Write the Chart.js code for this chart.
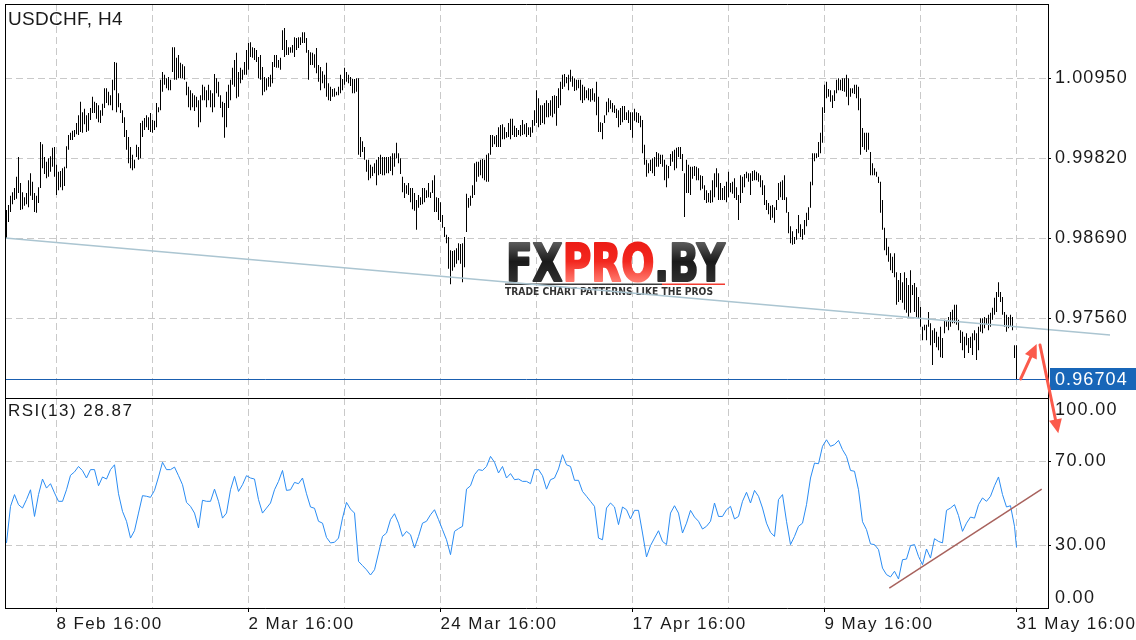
<!DOCTYPE html>
<html>
<head>
<meta charset="utf-8">
<title>USDCHF, H4</title>
<script src="https://cdn.jsdelivr.net/npm/chart.js@4.4.1/dist/chart.umd.min.js"></script>
<style>
html, body { margin: 0; padding: 0; background: #fff; }
#wrap { position: relative; width: 1136px; height: 640px; overflow: hidden; }
canvas { position: absolute; left: 0; top: 0; }
#rsiChart { z-index: 1; }
#mainChart { z-index: 2; }
</style>
</head>
<body>
<div id="wrap">
  <canvas id="rsiChart" width="1136" height="640"></canvas>
  <canvas id="mainChart" width="1136" height="640"></canvas>
</div>
<script>
// =========================
// Data (H4 bars)
// =========================
const highs = [
  0.9909,0.9916,0.9929,0.9934,0.9940,0.9956,0.9984,0.9947,0.9934,0.9927,
  0.9933,0.9951,0.9961,0.9949,0.9933,0.9929,0.9941,1.0005,1.0002,0.9984,
  0.9977,0.9982,0.9985,0.9997,0.9998,0.9973,0.9963,0.9964,0.9968,0.9970,
  0.9999,1.0015,1.0018,1.0021,1.0022,1.0032,1.0043,1.0062,1.0047,1.0052,
  1.0043,1.0046,1.0053,1.0069,1.0062,1.0060,1.0057,1.0050,1.0059,1.0081,
  1.0081,1.0076,1.0071,1.0093,1.0118,1.0117,1.0074,1.0060,1.0050,1.0040,
  1.0022,1.0012,0.9998,0.9987,0.9980,1.0001,0.9998,1.0032,1.0035,1.0039,
  1.0043,1.0040,1.0046,1.0036,1.0035,1.0060,1.0054,1.0093,1.0104,1.0100,
  1.0095,1.0097,1.0093,1.0139,1.0139,1.0124,1.0128,1.0117,1.0115,1.0112,
  1.0090,1.0083,1.0078,1.0074,1.0071,1.0069,1.0064,1.0071,1.0086,1.0083,
  1.0078,1.0086,1.0078,1.0074,1.0101,1.0095,1.0090,1.0071,1.0062,1.0060,
  1.0076,1.0086,1.0093,1.0110,1.0121,1.0131,1.0104,1.0110,1.0107,1.0118,
  1.0135,1.0145,1.0146,1.0139,1.0138,1.0135,1.0125,1.0128,1.0111,1.0097,
  1.0095,1.0097,1.0100,1.0118,1.0128,1.0128,1.0121,1.0124,1.0163,1.0166,
  1.0149,1.0139,1.0139,1.0142,1.0153,1.0152,1.0153,1.0153,1.0160,1.0160,
  1.0152,1.0135,1.0132,1.0131,1.0129,1.0138,1.0114,1.0111,1.0105,1.0100,
  1.0117,1.0088,1.0083,1.0080,1.0081,1.0076,1.0083,1.0100,1.0094,1.0110,
  1.0104,1.0100,1.0097,1.0094,1.0094,1.0095,1.0095,1.0012,1.0006,0.9998,
  0.9980,0.9980,0.9973,0.9970,0.9975,0.9980,0.9984,0.9987,0.9984,0.9984,
  0.9984,0.9984,0.9985,0.9989,0.9989,1.0004,0.9989,0.9982,0.9956,0.9947,
  0.9944,0.9947,0.9940,0.9940,0.9933,0.9923,0.9930,0.9927,0.9940,0.9940,
  0.9937,0.9947,0.9934,0.9951,0.9958,0.9927,0.9926,0.9920,0.9902,0.9885,
  0.9874,0.9871,0.9852,0.9851,0.9852,0.9855,0.9862,0.9861,0.9862,0.9871,
  0.9932,0.9926,0.9929,0.9944,0.9975,0.9977,0.9977,0.9980,0.9981,0.9980,
  0.9987,0.9989,1.0015,1.0015,1.0013,1.0015,1.0026,1.0029,1.0030,1.0026,
  1.0019,1.0032,1.0038,1.0038,1.0028,1.0025,1.0022,1.0029,1.0036,1.0030,
  1.0032,1.0026,1.0026,1.0036,1.0050,1.0078,1.0067,1.0057,1.0057,1.0060,
  1.0064,1.0060,1.0064,1.0070,1.0071,1.0070,1.0081,1.0090,1.0100,1.0101,
  1.0097,1.0100,1.0107,1.0098,1.0095,1.0093,1.0093,1.0093,1.0086,1.0083,
  1.0078,1.0081,1.0080,1.0081,1.0074,1.0090,1.0069,1.0033,1.0032,1.0043,
  1.0062,1.0067,1.0064,1.0060,1.0057,1.0052,1.0050,1.0053,1.0056,1.0056,
  1.0047,1.0050,1.0047,1.0047,1.0052,1.0047,1.0046,1.0042,1.0036,1.0001,
  0.9980,0.9975,0.9980,0.9982,0.9984,0.9991,0.9989,0.9987,0.9987,0.9980,
  0.9973,0.9971,0.9988,0.9992,0.9994,0.9997,0.9998,0.9998,0.9988,0.9961,
  0.9980,0.9973,0.9970,0.9970,0.9971,0.9970,0.9968,0.9958,0.9957,0.9944,
  0.9937,0.9933,0.9937,0.9951,0.9961,0.9968,0.9961,0.9947,0.9940,0.9943,
  0.9949,0.9963,0.9947,0.9949,0.9954,0.9941,0.9930,0.9958,0.9956,0.9960,
  0.9963,0.9961,0.9961,0.9964,0.9965,0.9963,0.9961,0.9958,0.9951,0.9944,
  0.9923,0.9919,0.9915,0.9916,0.9913,0.9923,0.9947,0.9949,0.9951,0.9958,
  0.9927,0.9906,0.9886,0.9879,0.9871,0.9882,0.9902,0.9889,0.9882,0.9895,
  0.9905,0.9913,0.9949,0.9989,0.9989,0.9989,1.0005,1.0018,1.0054,1.0086,
  1.0090,1.0080,1.0078,1.0071,1.0078,1.0093,1.0095,1.0093,1.0095,1.0095,
  1.0100,1.0095,1.0081,1.0081,1.0086,1.0086,1.0083,1.0067,1.0025,1.0018,
  1.0018,1.0018,0.9991,0.9975,0.9968,0.9963,0.9956,0.9949,0.9923,0.9884,
  0.9869,0.9857,0.9848,0.9843,0.9848,0.9821,0.9810,0.9820,0.9807,0.9821,
  0.9813,0.9803,0.9824,0.9803,0.9806,0.9800,0.9786,0.9772,0.9744,0.9747,
  0.9747,0.9765,0.9749,0.9739,0.9742,0.9737,0.9730,0.9744,0.9728,0.9754,
  0.9752,0.9758,0.9765,0.9768,0.9775,0.9775,0.9754,0.9739,0.9737,0.9730,
  0.9735,0.9728,0.9730,0.9735,0.9739,0.9735,0.9744,0.9756,0.9756,0.9758,
  0.9756,0.9761,0.9764,0.9771,0.9785,0.9793,0.9807,0.9793,0.9786,0.9765,
  0.9761,0.9758,0.9761,0.9758,0.9718,0.9718
];

const lows = [
  0.9869,0.9892,0.9906,0.9917,0.9923,0.9925,0.9933,0.9909,0.9910,0.9915,
  0.9917,0.9913,0.9929,0.9923,0.9906,0.9905,0.9919,0.9940,0.9968,0.9960,
  0.9954,0.9956,0.9963,0.9970,0.9956,0.9930,0.9937,0.9941,0.9937,0.9943,
  0.9968,0.9994,1.0008,1.0008,1.0012,1.0016,1.0015,1.0019,1.0018,1.0030,
  1.0019,1.0021,1.0036,1.0046,1.0046,1.0038,1.0033,1.0032,1.0042,1.0053,
  1.0060,1.0057,1.0057,1.0050,1.0078,1.0047,1.0054,1.0046,1.0032,1.0012,
  0.9994,0.9975,0.9968,0.9965,0.9968,0.9984,0.9980,0.9982,1.0012,1.0022,
  1.0026,1.0022,1.0019,1.0018,1.0022,1.0026,1.0047,1.0050,1.0076,1.0086,
  1.0081,1.0078,1.0078,1.0104,1.0093,1.0093,1.0095,1.0095,1.0095,1.0093,
  1.0071,1.0054,1.0050,1.0054,1.0049,1.0054,1.0026,1.0033,1.0064,1.0064,
  1.0054,1.0064,1.0054,1.0047,1.0054,1.0074,1.0069,1.0053,1.0040,1.0011,
  1.0026,1.0053,1.0064,1.0086,1.0083,1.0067,1.0069,1.0088,1.0093,1.0100,
  1.0100,1.0107,1.0125,1.0124,1.0121,1.0118,1.0095,1.0093,1.0071,1.0076,
  1.0078,1.0083,1.0083,1.0088,1.0111,1.0110,1.0110,1.0107,1.0135,1.0125,
  1.0128,1.0128,1.0131,1.0131,1.0125,1.0135,1.0138,1.0142,1.0145,1.0145,
  1.0131,1.0093,1.0114,1.0114,1.0110,1.0102,1.0090,1.0078,1.0088,1.0081,
  1.0069,1.0064,1.0063,1.0069,1.0069,1.0071,1.0071,1.0074,1.0078,1.0086,
  1.0090,1.0088,1.0084,1.0074,1.0074,1.0076,0.9987,0.9984,0.9991,0.9980,
  0.9963,0.9951,0.9954,0.9957,0.9961,0.9944,0.9958,0.9960,0.9958,0.9958,
  0.9961,0.9961,0.9964,0.9958,0.9970,0.9982,0.9975,0.9960,0.9934,0.9926,
  0.9932,0.9930,0.9920,0.9910,0.9908,0.9881,0.9912,0.9916,0.9917,0.9920,
  0.9926,0.9927,0.9926,0.9933,0.9906,0.9906,0.9895,0.9892,0.9884,0.9871,
  0.9862,0.9826,0.9804,0.9823,0.9828,0.9833,0.9838,0.9833,0.9807,0.9828,
  0.9878,0.9912,0.9915,0.9926,0.9930,0.9949,0.9956,0.9958,0.9954,0.9951,
  0.9949,0.9949,0.9987,0.9998,1.0002,0.9998,0.9998,0.9998,1.0009,1.0009,
  1.0011,1.0012,1.0009,1.0015,1.0012,1.0012,1.0015,1.0013,1.0015,1.0016,
  1.0012,1.0015,1.0012,1.0018,1.0028,1.0032,1.0026,1.0029,1.0032,1.0030,
  1.0040,1.0040,1.0042,1.0040,1.0045,1.0028,1.0053,1.0057,1.0080,1.0083,
  1.0088,1.0078,1.0090,1.0083,1.0077,1.0078,1.0081,1.0064,1.0060,1.0064,
  1.0067,1.0064,1.0062,1.0064,1.0062,1.0043,1.0019,1.0019,1.0009,1.0032,
  1.0043,1.0047,1.0052,1.0047,1.0046,1.0039,1.0026,1.0029,1.0033,1.0036,
  1.0036,1.0032,1.0022,1.0011,1.0035,1.0033,1.0032,1.0026,0.9989,0.9973,
  0.9956,0.9961,0.9964,0.9961,0.9957,0.9970,0.9970,0.9974,0.9970,0.9951,
  0.9941,0.9954,0.9971,0.9977,0.9965,0.9968,0.9984,0.9981,0.9964,0.9899,
  0.9933,0.9933,0.9930,0.9953,0.9957,0.9951,0.9951,0.9937,0.9939,0.9923,
  0.9919,0.9920,0.9919,0.9920,0.9927,0.9941,0.9923,0.9923,0.9923,0.9923,
  0.9920,0.9927,0.9934,0.9932,0.9926,0.9923,0.9895,0.9919,0.9933,0.9941,
  0.9954,0.9949,0.9930,0.9950,0.9951,0.9951,0.9949,0.9941,0.9930,0.9916,
  0.9909,0.9903,0.9895,0.9898,0.9891,0.9909,0.9923,0.9927,0.9923,0.9923,
  0.9905,0.9876,0.9862,0.9860,0.9861,0.9867,0.9876,0.9871,0.9867,0.9874,
  0.9886,0.9895,0.9912,0.9944,0.9978,0.9982,0.9984,0.9989,1.0004,1.0046,
  1.0067,1.0069,1.0062,1.0053,1.0063,1.0074,1.0078,1.0078,1.0077,1.0076,
  1.0069,1.0057,1.0069,1.0074,1.0073,1.0067,1.0050,0.9987,0.9998,0.9994,
  0.9991,0.9994,0.9958,0.9958,0.9958,0.9956,0.9947,0.9905,0.9881,0.9852,
  0.9845,0.9836,0.9824,0.9820,0.9814,0.9775,0.9779,0.9782,0.9778,0.9768,
  0.9764,0.9758,0.9764,0.9789,0.9765,0.9758,0.9756,0.9744,0.9725,0.9739,
  0.9725,0.9744,0.9718,0.9690,0.9721,0.9715,0.9711,0.9701,0.9700,0.9735,
  0.9744,0.9739,0.9744,0.9749,0.9749,0.9747,0.9739,0.9721,0.9711,0.9700,
  0.9718,0.9707,0.9714,0.9704,0.9725,0.9697,0.9711,0.9737,0.9735,0.9742,
  0.9747,0.9739,0.9744,0.9754,0.9761,0.9765,0.9786,0.9779,0.9761,0.9744,
  0.9737,0.9742,0.9744,0.9739,0.9700,0.96704
];

// RSI(13), one reading every second bar, last value on the last bar
const rsi = [
  31.0,48.4,54.0,49.2,47.6,51.6,56.3,43.6,54.0,61.4,
  57.1,59.2,54.8,50.8,50.8,56.3,63.2,64.8,67.4,65.4,
  61.9,65.9,65.9,58.2,62.4,61.4,65.9,68.2,54.4,46.0,
  41.3,33.3,36.8,45.2,53.5,53.2,52.7,56.0,62.4,69.4,
  65.9,65.9,67.1,63.0,58.7,50.3,48.4,45.2,38.1,51.3,
  50.8,50.8,56.6,50.8,42.8,45.2,56.3,62.7,55.5,58.7,
  63.0,61.9,61.4,51.6,45.2,47.6,50.0,56.3,60.3,65.5,
  56.0,56.3,59.8,59.2,61.9,54.4,48.1,47.5,41.3,40.4,
  33.6,31.0,31.3,33.3,42.8,50.3,47.1,45.2,22.2,20.2,
  18.2,15.7,18.2,26.2,34.1,35.7,42.1,44.9,40.4,34.1,
  36.5,34.9,28.6,34.1,40.4,41.3,44.4,46.8,42.1,37.3,
  32.5,25.4,36.5,37.8,38.9,56.6,58.2,63.5,65.9,65.5,
  67.4,72.2,69.4,64.3,67.4,61.9,64.0,61.1,61.4,60.3,
  60.3,59.2,65.9,65.9,63.0,56.6,61.1,61.9,66.2,73.0,
  68.2,67.4,60.8,60.8,55.5,53.2,50.8,48.4,33.3,32.5,
  47.6,50.0,48.1,39.7,48.1,46.8,42.4,46.5,46.5,35.7,
  24.3,29.7,33.3,36.8,31.7,30.2,45.2,48.7,45.2,35.7,
  40.4,46.5,43.3,41.3,37.6,38.9,41.3,50.0,43.6,43.6,
  46.8,48.4,42.4,43.6,50.8,55.1,50.0,56.0,53.2,47.6,
  40.4,36.0,34.1,51.6,54.0,41.3,30.2,34.1,38.9,40.4,
  49.2,61.9,69.0,68.7,77.0,80.1,77.0,77.8,79.8,75.4,
  72.2,65.5,65.1,56.3,41.1,37.3,30.5,30.2,27.8,19.0,
  15.9,14.8,17.5,13.8,23.0,23.3,29.7,30.2,24.6,20.6,
  28.1,23.8,33.0,31.7,31.0,46.5,47.6,49.2,44.0,36.5,
  40.4,43.3,42.8,49.2,52.4,50.8,53.2,58.2,62.4,54.0,
  48.1,48.7,38.9,28.87
];

const lastPrice = 0.96704;
const gridBars = [25, 73, 121, 169, 217, 265, 313, 361, 409, 457, 505];
const dateLabels = ["8 Feb 16:00", "", "2 Mar 16:00", "", "24 Mar 16:00", "", "17 Apr 16:00", "", "9 May 16:00", "", "31 May 16:00"];
const priceTicks = [0.97560, 0.98690, 0.99820, 1.00950];
const rsiTicks = [30, 70];
const rsiEdgeTicks = [100, 0];
const priceRange = [0.96434, 1.02000];
const barRange = [-0.75, 520.75];

// drawn objects on the chart (bar index, value)
const trendPrice = [[-0.75, 0.98694], [551.75, 0.97324]];
const trendRsi = [[441.4, 9.5], [517.6, 56.6]];
const arrows = [
  [[507.1, 0.96704], [515.1, 0.97197]],
  [[516.75, 0.97183], [525.9, 0.95936]]
];

const lastBar = highs.length - 1;
const FONT = "Liberation Sans";
Chart.defaults.font.family = FONT;

// =========================
// helpers
// =========================
function drawArrow(ctx, x1, y1, x2, y2){
    const a = Math.atan2(y2 - y1, x2 - x1);
    const head = 14, half = 6.5;
    const bx = x2 - head * Math.cos(a);
    const by = y2 - head * Math.sin(a);
    ctx.beginPath();
    ctx.moveTo(x1, y1);
    ctx.lineTo(bx, by);
    ctx.stroke();
    ctx.beginPath();
    ctx.moveTo(x2, y2);
    ctx.lineTo(bx + half * Math.sin(a), by - half * Math.cos(a));
    ctx.lineTo(bx - half * Math.sin(a), by + half * Math.cos(a));
    ctx.closePath();
    ctx.fill();
}

function drawLogo(ctx){
    ctx.save();
    ctx.letterSpacing = "0px";
    ctx.font = "bold 52px 'DejaVu Sans'";
    const full = ctx.measureText("FXPRO.BY").width;
    ctx.translate(506, 281);
    ctx.scale(218 / full, 1);

    const dark = ctx.createLinearGradient(0, -39, 0, 0);
    dark.addColorStop(0, "#5c5c5c");
    dark.addColorStop(0.5, "#1a1a1a");
    dark.addColorStop(1, "#2f2f2f");
    const red = ctx.createLinearGradient(0, -39, 0, 0);
    red.addColorStop(0, "#ec1c15");
    red.addColorStop(0.5, "#f3281f");
    red.addColorStop(1, "#ff786c");

    ctx.lineWidth = 2.2;
    ctx.lineJoin = "round";
    let x = 0;
    [["FX", dark], ["PRO", red], [".BY", dark]].forEach(([t, c]) => {
        ctx.fillStyle = c;
        ctx.strokeStyle = c;
        ctx.fillText(t, x, 0);
        ctx.strokeText(t, x, 0);
        x += ctx.measureText(t).width;
    });
    ctx.restore();

    ctx.save();
    ctx.fillStyle = "#3a3a3a";
    ctx.fillRect(505, 283.5, 157, 1.5);
    ctx.fillStyle = "#f23b31";
    ctx.fillRect(662, 283.5, 63, 1.5);

    const tag = "TRADE CHART PATTERNS LIKE THE PROS";
    ctx.letterSpacing = "0px";
    ctx.font = "bold 10px 'DejaVu Sans'";
    const tw = ctx.measureText(tag).width;
    ctx.translate(505, 294.5);
    ctx.scale(208 / tw, 1);
    ctx.fillStyle = "#333";
    ctx.fillText(tag, 0, 0);
    ctx.restore();
}

function hLine(ctx, x1, x2, y){
    ctx.beginPath(); ctx.moveTo(x1, y); ctx.lineTo(x2, y); ctx.stroke();
}
function vLine(ctx, x, y1, y2){
    ctx.beginPath(); ctx.moveTo(x, y1); ctx.lineTo(x, y2); ctx.stroke();
}

// =========================
// Main price panel
// =========================
const mainDecor = {
    id: "mainDecor",
    beforeDraw(chart){
        chart.ctx.letterSpacing = "1.1px";
    },
    beforeDatasetsDraw(chart){
        drawLogo(chart.ctx);
    },
    afterDatasetsDraw(chart){
        const {ctx, chartArea: a, scales: {x, y}} = chart;

        // support line
        ctx.save();
        ctx.strokeStyle = "#abc5d1";
        ctx.lineWidth = 1.5;
        ctx.beginPath();
        ctx.moveTo(x.getPixelForValue(trendPrice[0][0]), y.getPixelForValue(trendPrice[0][1]));
        ctx.lineTo(x.getPixelForValue(trendPrice[1][0]), y.getPixelForValue(trendPrice[1][1]));
        ctx.stroke();

        // last price line
        const py = Math.round(y.getPixelForValue(lastPrice)) + 0.5;
        ctx.strokeStyle = "#1a5fb0";
        ctx.lineWidth = 1;
        hLine(ctx, a.left, a.right, py);

        // frame
        ctx.strokeStyle = "#000";
        hLine(ctx, a.left, a.right + 0.5, a.top + 0.5);
        hLine(ctx, a.left, a.right + 0.5, a.bottom + 0.5);
        vLine(ctx, a.left + 0.5, a.top, a.bottom + 1);
        vLine(ctx, a.right + 0.5, a.top, a.bottom + 1);

        // price label
        ctx.fillStyle = "#1866b8";
        ctx.fillRect(a.right + 2, py - 11.5, 1136 - a.right - 2, 22);
        ctx.fillStyle = "#fff";
        ctx.font = "18px '" + FONT + "'";
        ctx.letterSpacing = "1.1px";
        ctx.textBaseline = "middle";
        ctx.textAlign = "left";
        ctx.fillText(lastPrice.toFixed(5), a.right + 7, py + 1);

        // title
        ctx.fillStyle = "#1a1a1a";
        ctx.font = "19px '" + FONT + "'";
        ctx.letterSpacing = "0.3px";
        ctx.textBaseline = "alphabetic";
        ctx.fillText("USDCHF, H4", 8, 25);

        // arrows
        ctx.strokeStyle = "#fb5a4b";
        ctx.fillStyle = "#fb5a4b";
        ctx.lineWidth = 3;
        ctx.lineCap = "round";
        arrows.forEach(([p, q]) => {
            drawArrow(ctx,
                x.getPixelForValue(p[0]), y.getPixelForValue(p[1]),
                x.getPixelForValue(q[0]), y.getPixelForValue(q[1]));
        });
        ctx.restore();
    }
};

const barData = highs.map((h, i) => ({x: i, y: [lows[i], h]}));

new Chart(document.getElementById("mainChart"), {
    type: "bar",
    data: {
        datasets: [{
            data: barData,
            backgroundColor: "#000",
            borderWidth: 0,
            barThickness: 1,
            inflateAmount: 0
        }]
    },
    options: {
        responsive: false,
        animation: false,
        devicePixelRatio: 1,
        events: [],
        layout: {padding: {left: 5, top: 4, right: 0, bottom: 242}},
        plugins: {legend: {display: false}, tooltip: {enabled: false}},
        scales: {
            x: {
                type: "linear",
                offset: false,
                min: barRange[0],
                max: barRange[1],
                bounds: "data",
                afterBuildTicks: s => { s.ticks = gridBars.map(v => ({value: v})); },
                afterFit: s => { s.height = 0; s.paddingLeft = 0; s.paddingRight = 0; },
                ticks: {display: false},
                grid: {color: "#c9c9c9", drawTicks: false, offset: false},
                border: {display: false, dash: [7, 4]}
            },
            y: {
                position: "right",
                min: priceRange[0],
                max: priceRange[1],
                bounds: "data",
                afterBuildTicks: s => { s.ticks = priceTicks.map(v => ({value: v})); },
                afterFit: s => { s.width = 88; s.paddingTop = 0; s.paddingBottom = 0; },
                ticks: {
                    callback: v => v.toFixed(5),
                    color: "#1a1a1a",
                    font: {size: 18},
                    padding: 4
                },
                grid: {color: "#c9c9c9", tickLength: 3, tickColor: "#000", tickBorderDash: []},
                border: {display: false, dash: [7, 4]}
            }
        }
    },
    plugins: [mainDecor]
});

// =========================
// RSI panel
// =========================
const rsiDecor = {
    id: "rsiDecor",
    beforeDraw(chart){
        chart.ctx.letterSpacing = "1.4px";
    },
    afterDatasetsDraw(chart){
        const {ctx, chartArea: a, scales: {x, y}} = chart;
        ctx.save();

        // rising support under RSI
        ctx.strokeStyle = "#a8625d";
        ctx.lineWidth = 1.5;
        ctx.beginPath();
        ctx.moveTo(x.getPixelForValue(trendRsi[0][0]), y.getPixelForValue(trendRsi[0][1]));
        ctx.lineTo(x.getPixelForValue(trendRsi[1][0]), y.getPixelForValue(trendRsi[1][1]));
        ctx.stroke();

        // frame
        ctx.strokeStyle = "#000";
        ctx.lineWidth = 1;
        hLine(ctx, a.left, a.right + 0.5, a.top + 0.5);
        hLine(ctx, a.left, a.right + 0.5, a.bottom + 0.5);
        vLine(ctx, a.left + 0.5, a.top, a.bottom + 1);
        vLine(ctx, a.right + 0.5, a.top, a.bottom + 1);

        // texts
        ctx.fillStyle = "#1a1a1a";
        ctx.font = "17px '" + FONT + "'";
        ctx.letterSpacing = "1.5px";
        ctx.textAlign = "left";
        ctx.textBaseline = "alphabetic";
        ctx.fillText("RSI(13) " + rsi[rsi.length - 1].toFixed(2), 8, 416);

        ctx.font = "18px '" + FONT + "'";
        ctx.letterSpacing = "1.3px";
        ctx.textBaseline = "middle";
        ctx.fillText(rsiEdgeTicks[0].toFixed(2), a.right + 7, y.getPixelForValue(rsiEdgeTicks[0]) + 12);
        ctx.fillText(rsiEdgeTicks[1].toFixed(2), a.right + 7, y.getPixelForValue(rsiEdgeTicks[1]) - 10);
        ctx.restore();
    }
};

const rsiData = rsi.map((v, k) => ({x: Math.min(k * 2, lastBar), y: v}));

new Chart(document.getElementById("rsiChart"), {
    type: "line",
    data: {
        datasets: [{
            data: rsiData,
            borderColor: "#2a8cf3",
            borderWidth: 1,
            pointRadius: 0,
            tension: 0
        }]
    },
    options: {
        responsive: false,
        animation: false,
        devicePixelRatio: 1,
        events: [],
        layout: {padding: {left: 5, top: 398, right: 0, bottom: 0}},
        plugins: {legend: {display: false}, tooltip: {enabled: false}},
        scales: {
            x: {
                type: "linear",
                offset: false,
                min: barRange[0],
                max: barRange[1],
                bounds: "data",
                afterBuildTicks: s => { s.ticks = gridBars.map(v => ({value: v})); },
                afterFit: s => { s.height = 32; s.paddingLeft = 0; s.paddingRight = 0; },
                ticks: {
                    callback: (v, i) => dateLabels[i],
                    align: "start",
                    autoSkip: false,
                    maxRotation: 0,
                    color: "#1a1a1a",
                    font: {size: 17},
                    padding: 2
                },
                grid: {
                    color: "#c9c9c9",
                    tickLength: 4,
                    tickColor: c => dateLabels[c.index] ? "#000" : "rgba(0,0,0,0)",
                    tickBorderDash: []
                },
                border: {display: false, dash: [7, 4]}
            },
            y: {
                position: "right",
                min: 0,
                max: 100,
                bounds: "data",
                afterBuildTicks: s => { s.ticks = rsiTicks.map(v => ({value: v})); },
                afterFit: s => { s.width = 88; s.paddingTop = 0; s.paddingBottom = 0; },
                ticks: {
                    callback: v => v.toFixed(2),
                    color: "#1a1a1a",
                    font: {size: 18},
                    padding: 4
                },
                grid: {color: "#c9c9c9", tickLength: 3, tickColor: "#000", tickBorderDash: []},
                border: {display: false, dash: [7, 4]}
            }
        }
    },
    plugins: [rsiDecor]
});
</script>
</body>
</html>
